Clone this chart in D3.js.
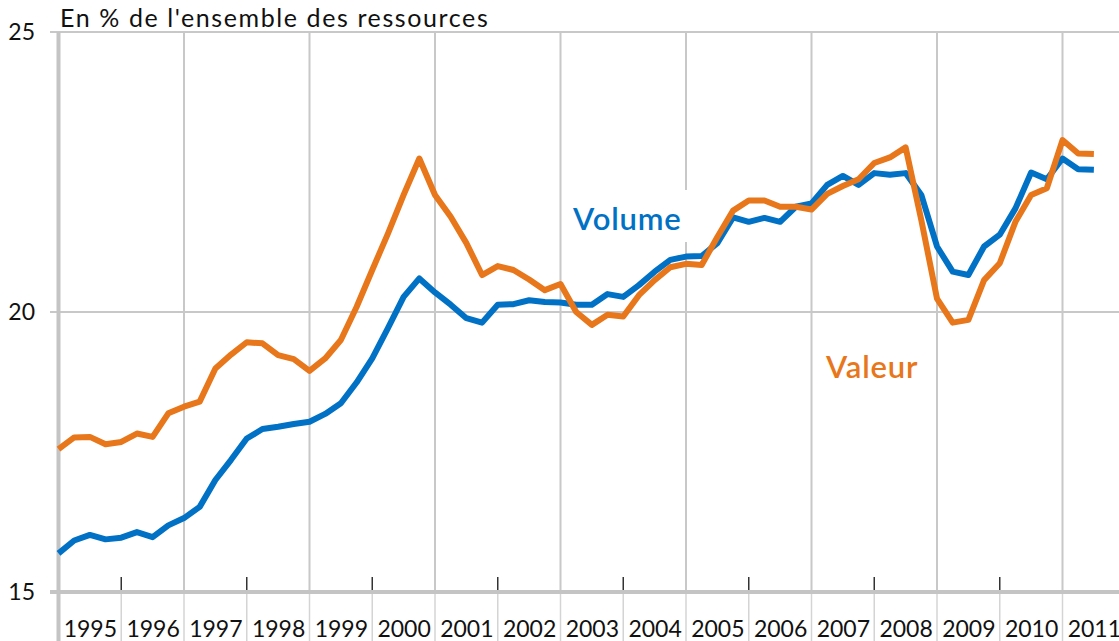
<!DOCTYPE html>
<html>
<head>
<meta charset="utf-8">
<script src="https://cdn.jsdelivr.net/npm/d3@7"></script>
<style>
  html, body { margin: 0; padding: 0; background: #fff; overflow: hidden; }
  svg { display: block; font-family: Lato, "Open Sans", sans-serif; }
</style>
</head>
<body>
<svg id="chart" width="1119" height="641"></svg>
<script>
// ---- Data (quarterly, 1995Q1 .. 2011Q3) ----
const startYear = 1995;
const years = ["1995","1996","1997","1998","1999","2000","2001","2002","2003","2004","2005","2006","2007","2008","2009","2010","2011"];
const yTicks = [15, 20, 25];
const volume = [
  15.69, 15.92, 16.02, 15.94, 15.97, 16.07, 15.98, 16.19,
  16.32, 16.52, 17.00, 17.36, 17.74, 17.91, 17.95, 18.00,
  18.04, 18.18, 18.37, 18.74, 19.17, 19.71, 20.27, 20.60,
  20.35, 20.13, 19.89, 19.81, 20.13, 20.14, 20.21, 20.18,
  20.17, 20.13, 20.13, 20.32, 20.27, 20.48, 20.72, 20.93,
  20.99, 21.00, 21.23, 21.69, 21.61, 21.68, 21.61, 21.88,
  21.94, 22.27, 22.43, 22.27, 22.48, 22.45, 22.48, 22.09,
  21.17, 20.72, 20.66, 21.17, 21.38, 21.85, 22.49, 22.37,
  22.74, 22.55, 22.54
];
const valeur = [
  17.55, 17.76, 17.77, 17.64, 17.68, 17.83, 17.77, 18.19,
  18.31, 18.40, 18.99, 19.24, 19.46, 19.44, 19.23, 19.16,
  18.95, 19.17, 19.50, 20.09, 20.75, 21.40, 22.09, 22.74,
  22.09, 21.70, 21.23, 20.66, 20.82, 20.75, 20.58, 20.39,
  20.50, 20.00, 19.77, 19.95, 19.92, 20.30, 20.57, 20.80,
  20.86, 20.84, 21.34, 21.81, 21.99, 21.99, 21.88, 21.88,
  21.83, 22.11, 22.25, 22.37, 22.66, 22.76, 22.94, 21.64,
  20.24, 19.81, 19.86, 20.57, 20.87, 21.61, 22.09, 22.21,
  23.07, 22.83, 22.82
];
const title = "En % de l'ensemble des ressources";
const seriesLabels = ["Volume", "Valeur"];
const colors = { volume: "#0071C5", valeur: "#E8761A" };

// ---- Layout ----
const svg = d3.select("#chart");
const x0 = 58.5, yearW = 62.75;
const x = d3.scaleLinear().domain([1995, 2012]).range([x0, x0 + 17 * yearW]);
const y = d3.scaleLinear().domain([15, 25]).range([592, 32]);
const grid = "#c8c8c8";

// horizontal grid lines
svg.append("g").selectAll("line").data([20, 25]).join("line")
  .attr("x1", 50).attr("x2", 1119)
  .attr("y1", d => y(d)).attr("y2", d => y(d))
  .attr("stroke", grid).attr("stroke-width", 2);

// vertical grid lines (every 2 years from 1997)
const boundaries = d3.range(1995, 2012);
svg.append("g").selectAll("line").data(boundaries.filter(d => d > 1995 && (d - 1995) % 2 === 0)).join("line")
  .attr("x1", d => x(d)).attr("x2", d => x(d))
  .attr("y1", y(25)).attr("y2", y(15))
  .attr("stroke", grid).attr("stroke-width", 2);

// separators under the axis between year labels
svg.append("g").selectAll("line").data(boundaries).join("line")
  .attr("x1", d => x(d)).attr("x2", d => x(d))
  .attr("y1", y(15)).attr("y2", 641)
  .attr("stroke", "#d4d4d4").attr("stroke-width", 1.5);

// black tick marks at odd boundaries
svg.append("g").selectAll("line").data(boundaries.filter(d => (d - 1995) % 2 === 1)).join("line")
  .attr("x1", d => x(d)).attr("x2", d => x(d))
  .attr("y1", y(15) - 15).attr("y2", y(15))
  .attr("stroke", "#333").attr("stroke-width", 1.5);

// y axis line and x axis line
svg.append("line").attr("x1", x0).attr("x2", x0).attr("y1", y(25)).attr("y2", 641)
  .attr("stroke", "#c4c4c4").attr("stroke-width", 4);
svg.append("line").attr("x1", 50).attr("x2", 1119).attr("y1", y(15)).attr("y2", y(15))
  .attr("stroke", "#c4c4c4").attr("stroke-width", 4);

// y axis labels
const yAxis = d3.axisLeft(y).tickValues(yTicks).tickSize(0).tickPadding(0).tickFormat(d3.format("d"));
const gy = svg.append("g").attr("transform", "translate(35,0)").call(yAxis);
gy.select(".domain").remove();
gy.selectAll("text").attr("font-size", 23).attr("fill", "#111").attr("font-family", "Lato, sans-serif");

// x axis labels (years centred in each year)
const xAxis = d3.axisBottom(x).tickValues(d3.range(1995, 2012).map(d => d + 0.5))
  .tickSize(0).tickPadding(0).tickFormat((d, i) => years[i]);
const gx = svg.append("g").attr("transform", "translate(0,621)").call(xAxis);
gx.select(".domain").remove();
gx.selectAll("text").attr("font-size", 23).attr("fill", "#111").attr("font-family", "Lato, sans-serif").attr("dy", "0.71em");

// label background boxes
svg.append("rect").attr("x", 568).attr("y", 190).attr("width", 122).attr("height", 52).attr("fill", "#fff");
svg.append("rect").attr("x", 820).attr("y", 340).attr("width", 106).attr("height", 50).attr("fill", "#fff");

// lines
const line = d3.line().x((d, i) => x(startYear + i / 4)).y(d => y(d));
svg.append("path").datum(volume).attr("d", line)
  .attr("fill", "none").attr("stroke", colors.volume).attr("stroke-width", 6).attr("stroke-linejoin", "round");
svg.append("path").datum(valeur).attr("d", line)
  .attr("fill", "none").attr("stroke", colors.valeur).attr("stroke-width", 6).attr("stroke-linejoin", "round");

// series labels
svg.append("text").attr("x", 573).attr("y", 230).text(seriesLabels[0])
  .attr("font-size", 31).attr("font-weight", 600).attr("letter-spacing", 0.8).attr("fill", colors.volume);
svg.append("text").attr("x", 826).attr("y", 378).text(seriesLabels[1])
  .attr("font-size", 31).attr("font-weight", 600).attr("letter-spacing", 0.8).attr("fill", colors.valeur);

// title
svg.append("text").attr("x", 60).attr("y", 27).text(title)
  .attr("font-size", 25).attr("letter-spacing", 1.6).attr("fill", "#111");
</script>
</body>
</html>
